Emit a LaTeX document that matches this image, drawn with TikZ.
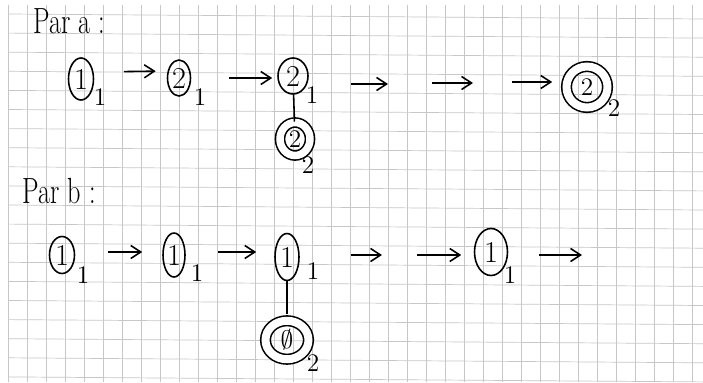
\documentclass[tikz,border=0pt]{standalone}
\usetikzlibrary{arrows.meta,shapes.geometric,positioning}
\tikzset{
		>={Straight Barb[length=0.2cm,width=0.26cm]}
	}
\begin{document}
\begin{tikzpicture}[x=0.02cm,y=-0.02cm,line width=0.9pt,
    grid/.style={black!22,line width=0.4pt},
    state/.style={ellipse,draw,inner sep=0pt,font=\LARGE},
    final/.style={state,double,double distance=0.15cm,font=\Large},
    sub/.style={font=\Large,inner sep=0pt},
    part/.style={anchor=west,font=\huge,inner sep=0pt}]
          \useasboundingbox[fill=white] (0,0) rectangle (703,382);

          % squared paper
          \foreach \k in {0,...,36}
            \draw[grid] (8+19*\k,5) -- (8+19*\k,382);
          \foreach \k in {0,...,19}
            \draw[grid] (8,14+19.1*\k) -- (703,19+19.1*\k);

          % part a
          \node[part] (pa) at (33,21) {\scalebox{0.72}[1]{Par a :}};

          \node[state,minimum width=0.5cm,minimum height=0.84cm] (a1) at (81,79) {1};
          \node[state,minimum width=0.46cm,minimum height=0.72cm] (a2) at (179,78) {2};
          \node[state,minimum width=0.6cm,minimum height=0.72cm] (a3) at (293,76) {2};
          \node[final,minimum width=0.6cm,minimum height=0.66cm] (a3s) at (295,139) {2};
          \node[final,circle,minimum size=0.82cm,double distance=0.16cm] (a4) at (587,87) {2};

          \node[sub] (a1i) at (100,97) {1};
          \node[sub] (a2i) at (200,97) {1};
          \node[sub] (a3i) at (312,95) {1};
          \node[sub] (a3si) at (308,165) {2};
          \node[sub] (a4i) at (614,108) {2};

          \coordinate (f1) at (388,84);
          \coordinate (g1) at (432,83);
          \coordinate (g2) at (473,83);
          \coordinate (h1) at (512,82);

          \draw[->,shorten <=0.59cm,shorten >=0.22cm] ([yshift=0.14cm]a1.east) -- ([yshift=0.14cm]a2.west);
          \draw[->,shorten <=0.76cm,shorten >=0.1cm] (a2.east) -- (a2.east -| a3.west);
          \draw[->,shorten <=0.84cm] (f1 -| a3.east) -- (f1);
          \draw[->] (g1) -- (g2);
          \draw[->,shorten >=0.27cm] (h1) -- (h1 -| a4.west);
          \draw (a3) -- (a3s);

          % part b
          \node[part] (pb) at (22,191) {\scalebox{0.72}[1]{Par b :}};

          \node[state,minimum width=0.5cm,minimum height=0.74cm] (b1) at (62,255) {1};
          \node[state,minimum width=0.44cm,minimum height=0.88cm] (b2) at (174,255) {1};
          \node[state,minimum width=0.48cm,minimum height=0.94cm] (b3) at (287,257) {1};
          \node[final,minimum width=0.86cm,minimum height=0.77cm,double distance=0.16cm] (b3s) at (287,340) {$\emptyset$};
          \node[state,minimum width=0.66cm,minimum height=0.94cm] (b4) at (491,252) {1};

          \node[sub] (b1i) at (83,275) {1};
          \node[sub] (b2i) at (197,273) {1};
          \node[sub] (b3i) at (313,271) {1};
          \node[sub] (b3si) at (313,363) {2};
          \node[sub] (b4i) at (510,275) {1};

          \coordinate (k1) at (382,255);
          \coordinate (m1) at (417,255);
          \coordinate (n1) at (582,255);

          \draw[->,shorten <=0.65cm,shorten >=0.4cm] ([yshift=0.06cm]b1.east) -- ([yshift=0.06cm]b2.west);
          \draw[->,shorten <=0.64cm,shorten >=0.36cm] ([yshift=0.06cm]b2.east) -- ([yshift=0.06cm]b2.east -| b3.west);
          \draw[->,shorten <=1.02cm] (k1 -| b3.east) -- (k1);
          \draw[->,shorten >=0.25cm] (m1) -- (m1 -| b4.west);
          \draw[->,shorten <=0.61cm] (n1 -| b4.east) -- (n1);
          \draw[shorten >=0.12cm] (b3) -- (b3s);

          \end{tikzpicture}
\end{document}
